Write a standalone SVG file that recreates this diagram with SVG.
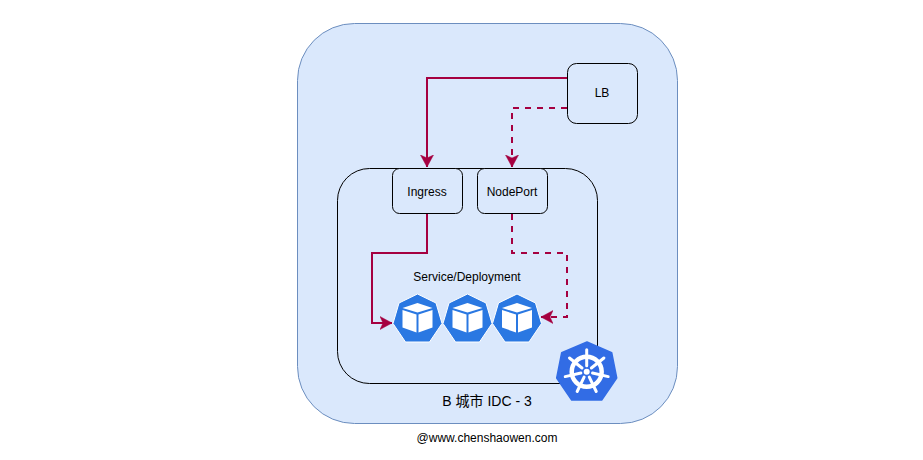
<svg xmlns="http://www.w3.org/2000/svg" width="923" height="460" viewBox="0 0 923 460">
<style>
text{font-family:"Liberation Sans",Arial,"Noto Sans CJK SC",sans-serif;font-size:12px;fill:#000;text-anchor:middle}
.box{fill:#dae8fc;stroke:#000;stroke-width:1}
.conn{fill:none;stroke:#a50040;stroke-width:2}
.dash{stroke-dasharray:6 6}
</style>
<defs>
<marker id="arrow" markerUnits="userSpaceOnUse" markerWidth="15" markerHeight="15" refX="12" refY="7" orient="auto">
<path d="M0 0.500L12 7L0 13.500L3 7Z" fill="#a50040" stroke="#a50040" stroke-width="0.500"/>
</marker>
<g id="pod">
<path d="M0 -24L18.500 -15L24.500 5.500L12 24L-12 24L-24.500 5.500L-18.500 -15Z" fill="#2a78e2" stroke="#fff" stroke-width="1" stroke-linejoin="round"/>
<path d="M0 -15L15 -10L0 -5.500L-15 -10Z" fill="#fff"/>
<path d="M-15 -8L-1 -3.500L-1 14.500L-15 9.500Z" fill="#fff"/>
<path d="M15 -8L1 -3.500L1 14.500L15 9.500Z" fill="#fff"/>
</g>
<path id="spoke" d="M0 -6L0 -22" fill="none" stroke="#fff" stroke-width="3" stroke-linecap="round"/>
</defs>
<rect width="923" height="460" fill="#fff"/>
<g id="idc">
<rect class="box" x="297.500" y="23.500" width="380" height="400" rx="57" ry="57" style="stroke:#6c8ebf"/>
<text x="487" y="406" style="font-size:14px">B 城市 IDC - 3</text>
</g>
<g id="cluster"><rect x="337.500" y="168.500" width="260" height="215" rx="32" ry="32" fill="none" stroke="#000"/></g>
<g id="connectors">
<path class="conn" d="M567 78H427V167" marker-end="url(#arrow)"/>
<path class="conn dash" d="M567 108H512V167" marker-end="url(#arrow)"/>
<path class="conn" d="M427 214V253H372V323H392" marker-end="url(#arrow)"/>
<path class="conn dash" d="M512 214V253H567V317H541" marker-end="url(#arrow)"/>
</g>
<g id="lb"><rect class="box" x="567.500" y="63.500" width="70" height="60" rx="9" ry="9"/><text x="602" y="97">LB</text></g>
<g id="ingress"><rect class="box" x="392.500" y="168.500" width="70" height="45" rx="7" ry="7"/><text x="427" y="196">Ingress</text></g>
<g id="nodeport"><rect class="box" x="477.500" y="168.500" width="70" height="45" rx="7" ry="7"/><text x="512" y="196">NodePort</text></g>
<g id="service"><text x="467" y="281">Service/Deployment</text></g>
<g id="pod1"><use href="#pod" x="417.500" y="318"/></g>
<g id="pod2"><use href="#pod" x="467.500" y="318"/></g>
<g id="pod3"><use href="#pod" x="517" y="318"/></g>
<g id="k8s">
<path d="M587 342L611.700 352.700L616.700 378L601.700 400L571.700 400L556.700 378L561.700 352.700Z" fill="#326ce5" stroke="#326ce5" stroke-linejoin="round" stroke-width="1.500"/>
<g transform="translate(586.700 371.700)">
<circle r="15" fill="none" stroke="#fff" stroke-width="4.500"/>
<circle r="3" fill="#fff"/>
<use href="#spoke"/>
<use href="#spoke" transform="rotate(51.430)"/>
<use href="#spoke" transform="rotate(102.860)"/>
<use href="#spoke" transform="rotate(154.290)"/>
<use href="#spoke" transform="rotate(205.710)"/>
<use href="#spoke" transform="rotate(257.140)"/>
<use href="#spoke" transform="rotate(308.570)"/>
</g>
</g>
<g id="credit"><text x="487" y="442">@www.chenshaowen.com</text></g>
</svg>
